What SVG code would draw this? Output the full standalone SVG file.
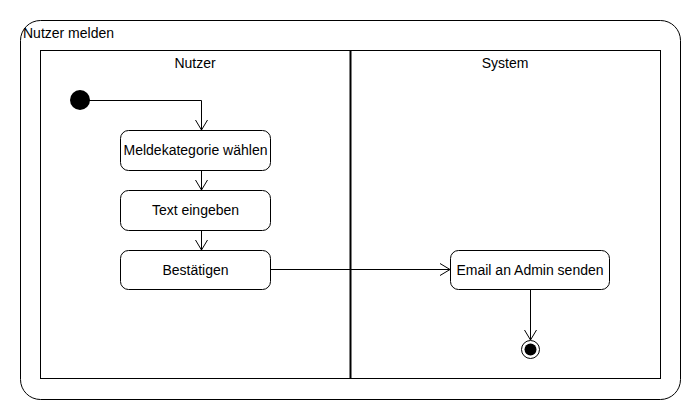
<svg xmlns="http://www.w3.org/2000/svg" width="700" height="420" viewBox="0 0 700 420">
<defs>
<style>
text{font-family:"Liberation Sans",Arial,sans-serif;font-size:14px;fill:#000}
.box{fill:#fff;stroke:#000;stroke-width:1}
.ln{fill:none;stroke:#000;stroke-width:1}
</style>
<marker id="ah" markerWidth="14" markerHeight="14" refX="11" refY="7" orient="auto" markerUnits="userSpaceOnUse">
<path d="M1,1 L11,7 L1,13" fill="none" stroke="#000" stroke-width="1"/>
</marker>
</defs>
<rect x="0" y="0" width="700" height="420" fill="#fff"/>
<g id="frame">
<rect x="20.5" y="20.5" width="660" height="379" rx="20" ry="20" class="ln"/>
<text x="23" y="38">Nutzer melden</text>
</g>
<g id="lanes">
<rect x="40.5" y="50.5" width="620" height="328" class="ln"/>
<line x1="350.5" y1="50" x2="350.5" y2="379" stroke="#000" stroke-width="2"/>
<text x="195" y="68" text-anchor="middle">Nutzer</text>
<text x="505" y="68" text-anchor="middle">System</text>
</g>
<g id="connectors">
<polyline points="88,100.5 201.5,100.5 201.5,130" class="ln" marker-end="url(#ah)"/>
<line x1="201.5" y1="170" x2="201.5" y2="190" class="ln" marker-end="url(#ah)"/>
<line x1="201.5" y1="230" x2="201.5" y2="250" class="ln" marker-end="url(#ah)"/>
<line x1="270" y1="269.5" x2="450" y2="269.5" class="ln" marker-end="url(#ah)"/>
<line x1="530.5" y1="290" x2="530.5" y2="340" class="ln" marker-end="url(#ah)"/>
</g>
<g id="start">
<circle cx="80" cy="100" r="10" fill="#000"/>
</g>
<g id="n1">
<rect x="120.5" y="130.5" width="150" height="40" rx="8" class="box"/>
<text x="195.5" y="155" text-anchor="middle">Meldekategorie wählen</text>
</g>
<g id="n2">
<rect x="120.5" y="190.5" width="150" height="40" rx="8" class="box"/>
<text x="195.5" y="215" text-anchor="middle">Text eingeben</text>
</g>
<g id="n3">
<rect x="120.5" y="250.5" width="150" height="39" rx="8" class="box"/>
<text x="195.5" y="275" text-anchor="middle">Bestätigen</text>
</g>
<g id="n4">
<rect x="450.5" y="250.5" width="159" height="39" rx="8" class="box"/>
<text x="530" y="275" text-anchor="middle">Email an Admin senden</text>
</g>
<g id="end">
<circle cx="530.5" cy="349.5" r="9" fill="#fff" stroke="#000" stroke-width="1"/>
<circle cx="530.5" cy="349.5" r="6" fill="#000"/>
</g>
</svg>
